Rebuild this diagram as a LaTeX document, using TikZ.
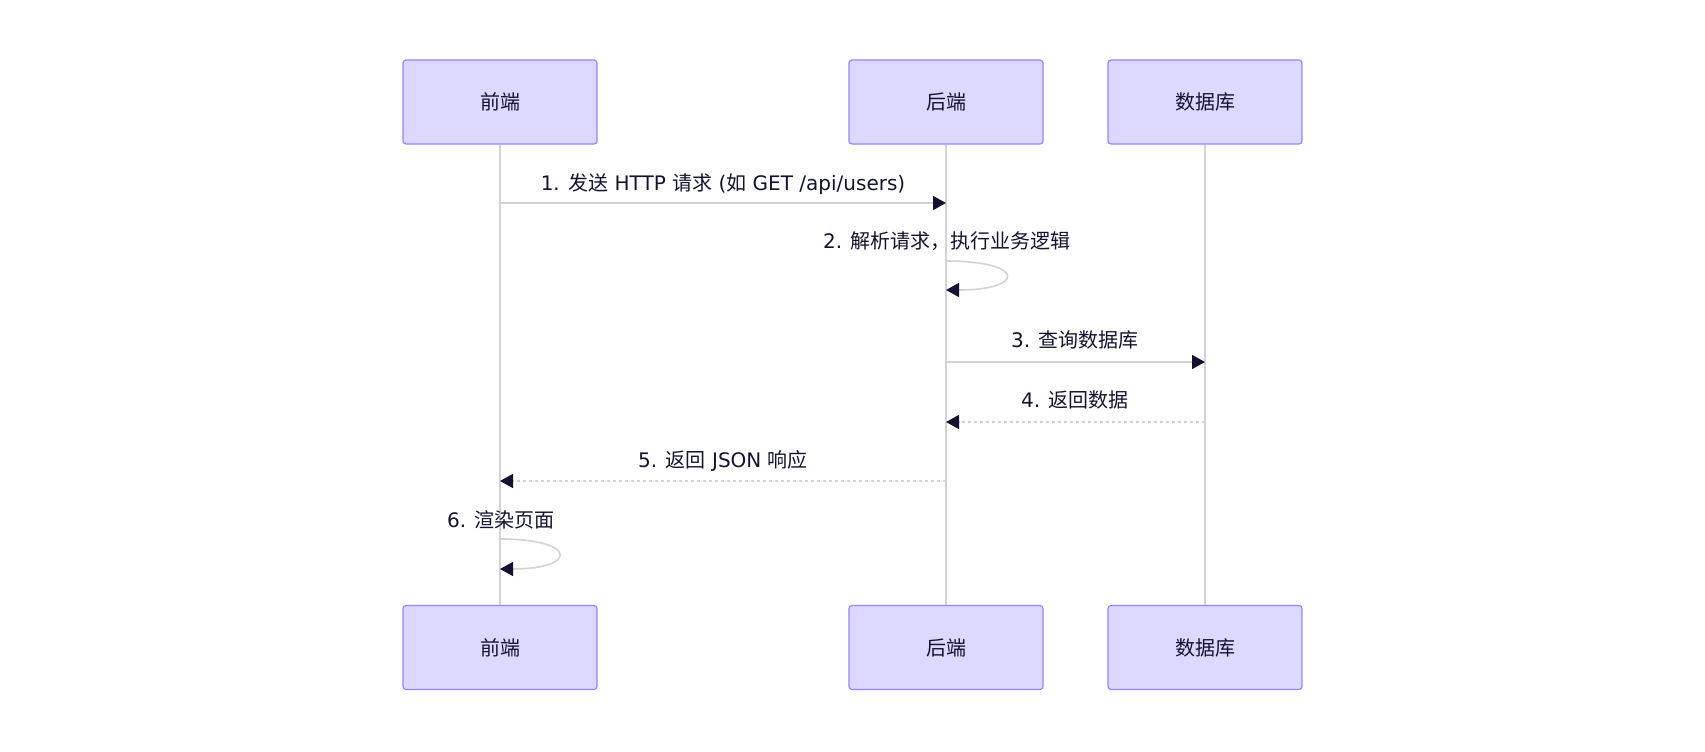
\documentclass[tikz,border=0pt]{standalone}
\usepackage{fontspec}
\setmainfont{DejaVu Sans}
\newfontfamily\cjk{Noto Sans CJK SC}
\usetikzlibrary{arrows.meta}

\definecolor{actorfill}{RGB}{220,216,255}
\definecolor{actorline}{RGB}{147,135,255}
\definecolor{lifeline}{RGB}{211,211,211}
\definecolor{msgtext}{RGB}{19,19,48}

\tikzset{
    actor/.style={draw=actorline,line width=1.2pt,fill=actorfill,rounded corners=3pt,
        minimum width=194pt,minimum height=84pt,text=msgtext,font=\cjk\fontsize{20}{24}\selectfont},
    life/.style={draw=lifeline,line width=2pt},
    msg/.style={draw=lifeline,line width=1.6pt,-{Triangle[length=13pt,width=14pt,color=msgtext]}},
    reply/.style={msg,dash pattern=on 3pt off 3pt},
    lbl/.style={anchor=base,inner sep=0pt,text=msgtext,font=\fontsize{20}{24}\selectfont}
}

\begin{document}
\begin{tikzpicture}[x=1pt,y=-1pt]
    \useasboundingbox (0,0) rectangle (1705,752);

    % participants
    \node[actor](fe)at(500,102){前端};
    \node[actor](be)at(946,102){后端};
    \node[actor](db)at(1205,102){数据库};
    \node[actor](feb)at(500,647.5){前端};
    \node[actor](beb)at(946,647.5){后端};
    \node[actor](dbb)at(1205,647.5){数据库};

    \draw[life](fe)--(feb);
    \draw[life](be)--(beb);
    \draw[life](db)--(dbb);

    % 1
    \coordinate(fe1)at(fe |- 0,203);
    \coordinate(be1)at(be |- 0,203);
    \draw[msg](fe1)--(be1);
    \node[lbl](t1)at(723,190){1. {\cjk 发送} HTTP {\cjk 请求} ({\cjk 如} GET /api/users)};

    % 2
    \coordinate(be2a)at(be |- 0,261);
    \coordinate(be2b)at(be |- 0,290);
    \draw[msg](be2a)..controls +(80,0) and +(80,0)..(be2b);
    \node[lbl](t2)at(947,248){2. {\cjk 解析请求，执行业务逻辑}};

    % 3
    \coordinate(be3)at(be |- 0,362);
    \coordinate(db3)at(db |- 0,362);
    \draw[msg](be3)--(db3);
    \node[lbl](t3)at(1075,347){3. {\cjk 查询数据库}};

    % 4
    \coordinate(db4)at(db |- 0,422);
    \coordinate(be4)at(be |- 0,422);
    \draw[reply](db4)--(be4);
    \node[lbl](t4)at(1075,407){4. {\cjk 返回数据}};

    % 5
    \coordinate(be5)at(be |- 0,481);
    \coordinate(fe5)at(fe |- 0,481);
    \draw[reply](be5)--(fe5);
    \node[lbl](t5)at(723,467){5. {\cjk 返回} JSON {\cjk 响应}};

    % 6
    \coordinate(fe6a)at(fe |- 0,539);
    \coordinate(fe6b)at(fe |- 0,569);
    \draw[msg](fe6a)..controls +(78,0) and +(78,0)..(fe6b);
    \node[lbl](t6)at(501,527){6. {\cjk 渲染页面}};
\end{tikzpicture}
\end{document}
